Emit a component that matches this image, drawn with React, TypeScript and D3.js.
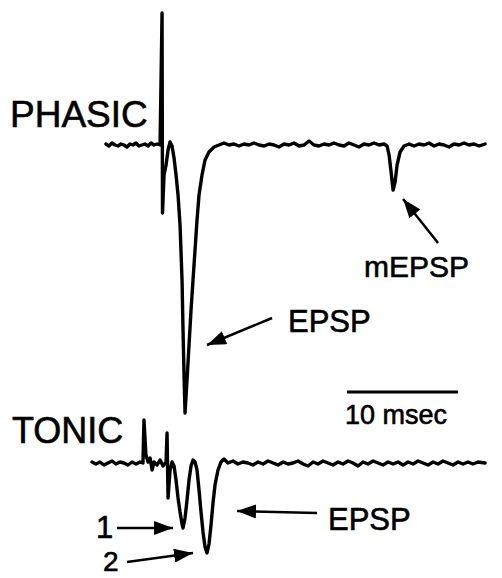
import { useEffect, useRef } from 'react';
import * as d3 from 'd3';

// Time in ms, voltage in arbitrary units (positive = up)
const phasicTime = [
  1.26, 1.53, 1.8, 2.07, 2.34, 2.61, 2.88, 3.15, 3.42, 3.69, 3.96, 4.23, 4.5, 4.77, 5.05, 5.32, 5.59, 5.86, 6.13,
  6.31, 6.35, 6.49, 6.67, 6.85, 7.03, 7.21, 7.39, 7.57, 7.75, 7.93, 8.11, 8.2, 8.29, 8.38, 8.56, 8.74, 8.92, 9.1,
  9.28, 9.46, 9.64, 9.91, 10.18, 10.54, 10.99,
  11.44, 11.89, 12.34, 12.79, 13.24, 13.69, 14.14, 14.59, 15.05, 15.5, 15.95, 16.4, 16.85, 17.3, 17.75, 18.2,
  18.65, 19.1, 19.55, 20.0, 20.45, 20.9, 21.35, 21.8, 22.25, 22.7, 23.15, 23.6, 24.05, 24.5, 24.95, 25.41, 25.86,
  26.31, 26.58, 26.76, 26.94, 27.12, 27.3, 27.48, 27.75, 28.11,
  28.56, 29.01, 29.46, 29.91, 30.36, 30.81, 31.26, 31.71, 32.16, 32.61, 33.06, 33.51, 33.96, 34.41, 34.86, 35.41,
];
const phasicVolt = [
  0.1, -0.1, 0.2, 0.0, -0.1, 0.1, 0.0, -0.2, 0.1, 0.0, 0.2, -0.1, 0.0, 0.1, -0.1, 0.2, 0.0, 0.1, 0.0,
  13.2, -6.8, -3.0, -2.0, -0.5, 0.3, -0.1, -1.3, -3.0, -5.0, -8.0, -13.5, -18.5, -23.0, -26.8, -23.5, -20.0, -16.5, -13.5,
  -10.5, -7.5, -5.0, -3.0, -1.5, -0.7, -0.2,
  0.0, 0.2, 0.0, 0.1, -0.1, 0.1, 0.0, 0.2, 0.0, -0.1, 0.1, 0.0, -0.2, 0.1, 0.0, 0.2,
  -0.1, 0.0, 0.4, 0.0, -0.1, 0.1, 0.0, 0.2, 0.0, -0.1, 0.2, 0.0, -0.2, 0.1, 0.0, 0.2, 0.0,
  0.1, -0.1, -1.0, -2.7, -4.5, -3.7, -2.0, -0.7, -0.1,
  0.1, -0.1, 0.1, 0.0, 0.2, -0.1, 0.1, 0.0, -0.2, 0.1, 0.0, 0.2, 0.0, 0.1, -0.1, 0.1,
];

const tonicTime = [
  0.0, 0.36, 0.72, 1.08, 1.44, 1.8, 2.16, 2.52, 2.88, 3.24, 3.6, 3.96, 4.32, 4.59,
  4.68, 4.86, 5.05, 5.23, 5.41, 5.59, 5.86, 6.13, 6.4, 6.67, 6.76, 6.85, 7.03, 7.21,
  7.39, 7.57, 7.75, 7.93, 8.11, 8.2, 8.38, 8.56, 8.74, 8.92, 9.1, 9.28,
  9.46, 9.64, 9.82, 10.0, 10.18, 10.36, 10.54, 10.72, 10.9, 11.08, 11.35, 11.62, 11.89, 12.25,
  12.7, 13.15, 13.6, 14.05, 14.5, 14.95, 15.41, 15.86, 16.31, 16.76, 17.21, 17.66, 18.11, 18.56, 19.01,
  19.46, 19.91, 20.36, 20.81, 21.26, 21.71, 22.16, 22.61, 23.06, 23.51, 23.96, 24.41, 24.86, 25.32,
  25.77, 26.22, 26.67, 27.12, 27.57, 28.02, 28.47, 28.92, 29.37, 29.82, 30.27, 30.72, 31.17, 31.62,
  32.07, 32.52, 32.97, 33.42, 33.87, 34.32, 34.77, 35.41,
];
const tonicVolt = [
  0.1, -0.1, 0.1, -0.2, 0.0, 0.2, -0.1, 0.1, 0.0, -0.2, 0.1, -0.1, 0.1, 0.0,
  4.3, 0.8, 0.1, 0.5, -0.7, 0.1, -0.2, 0.3, -0.3, 0.1, 3.0, -3.5, -0.7, 0.1,
  -0.3, -1.7, -3.5, -4.9, -6.1, -6.5, -5.5, -3.7, -1.7, -0.3, 0.3, 0.1,
  -0.7, -2.7, -4.9, -6.9, -8.4, -9.0, -8.1, -6.2, -4.0, -2.2, -0.7, 0.1, 0.4, 0.0,
  0.2, -0.1, 0.1, 0.0, -0.2, 0.1, -0.1, 0.2, 0.0, -0.2, 0.1, -0.1, 0.0, 0.2, -0.1,
  -0.3, 0.1, -0.1, 0.2, 0.0, -0.2, 0.1, -0.1, 0.2, 0.0, -0.3, 0.1, -0.1, 0.2,
  0.0, -0.2, 0.1, -0.1, 0.1, -0.2, 0.1, -0.1, 0.2, 0.0, -0.2, 0.1, -0.1, 0.2,
  0.0, -0.2, 0.1, -0.1, 0.1, -0.1, 0.1, 0.0,
];

const scaleBarMs = 10;

const App = () => {
  const svgRef = useRef<SVGSVGElement>(null);
  const width = 502;
  const height = 578;

  useEffect(() => {
    if (!svgRef.current) return;
    const svg = d3.select(svgRef.current);
    svg.selectAll('*').remove();

    const font = "'Liberation Sans', Arial, Helvetica, sans-serif";

    const x = d3.scaleLinear().domain([0, 35.4]).range([92, 485]);
    const yPhasic = d3.scaleLinear().domain([0, 1]).range([145, 135]);
    const yTonic = d3.scaleLinear().domain([0, 1]).range([463, 453]);

    svg
      .append('defs')
      .append('marker')
      .attr('id', 'head')
      .attr('viewBox', '0 -5 10 10')
      .attr('refX', 10)
      .attr('refY', 0)
      .attr('orient', 'auto')
      .attr('markerUnits', 'userSpaceOnUse')
      .attr('markerWidth', 19)
      .attr('markerHeight', 14)
      .attr('preserveAspectRatio', 'none')
      .append('path')
      .attr('d', 'M0,-5 L10,0 L0,5 Z')
      .attr('fill', '#000');

    const drawTrace = (t: number[], v: number[], yScale: d3.ScaleLinear<number, number>) => {
      const pts = t.map((d, i) => [d, v[i]] as [number, number]);
      const line = d3
        .line<[number, number]>()
        .x((d) => x(d[0]))
        .y((d) => yScale(d[1]));
      svg
        .append('path')
        .datum(pts)
        .attr('d', line)
        .attr('fill', 'none')
        .attr('stroke', '#000')
        .attr('stroke-width', 3.4)
        .attr('stroke-linejoin', 'round')
        .attr('stroke-linecap', 'round');
    };

    drawTrace(phasicTime, phasicVolt, yPhasic);
    drawTrace(tonicTime, tonicVolt, yTonic);

    // arrows: [t1, v1, t2, v2] in data units of their trace
    const arrow = (yScale: d3.ScaleLinear<number, number>, a: number[]) => {
      svg
        .append('line')
        .attr('x1', x(a[0]))
        .attr('y1', yScale(a[1]))
        .attr('x2', x(a[2]))
        .attr('y2', yScale(a[3]))
        .attr('stroke', '#000')
        .attr('stroke-width', 2.5)
        .attr('marker-end', 'url(#head)');
    };
    arrow(yPhasic, [16.22, -17.3, 10.36, -20.0]);
    arrow(yPhasic, [31.17, -9.8, 28.02, -5.4]);
    arrow(yTonic, [2.25, -6.5, 7.3, -6.5]);
    arrow(yTonic, [3.15, -9.9, 9.1, -9.0]);
    arrow(yTonic, [20.27, -5.0, 13.06, -4.8]);

    const label = (txt: string, px: number, py: number, size: number) => {
      svg
        .append('text')
        .attr('x', px)
        .attr('y', py)
        .attr('font-family', font)
        .attr('font-size', size)
        .attr('fill', '#000')
        .attr('stroke', '#000')
        .attr('stroke-width', 0.6)
        .text(txt);
    };
    label('PHASIC', 10, 127, 37);
    label('TONIC', 12, 443, 36);
    label('EPSP', 288, 332, 31);
    label('mEPSP', 364, 277, 30);
    label('EPSP', 328, 530, 31);
    label('1', 96, 538, 31);
    label('2', 103, 571, 28);

    // scale bar
    const sb0 = 22.97;
    svg
      .append('line')
      .attr('x1', x(sb0))
      .attr('x2', x(sb0 + scaleBarMs))
      .attr('y1', yPhasic(-24.7))
      .attr('y2', yPhasic(-24.7))
      .attr('stroke', '#000')
      .attr('stroke-width', 3);
    label(`${scaleBarMs} msec`, 345, 424, 27);
  }, []);

  return (
    <svg
      ref={svgRef}
      width={width}
      height={height}
      style={{ position: 'absolute', left: 0, top: 0, background: '#fff' }}
    />
  );
};

export default App;
